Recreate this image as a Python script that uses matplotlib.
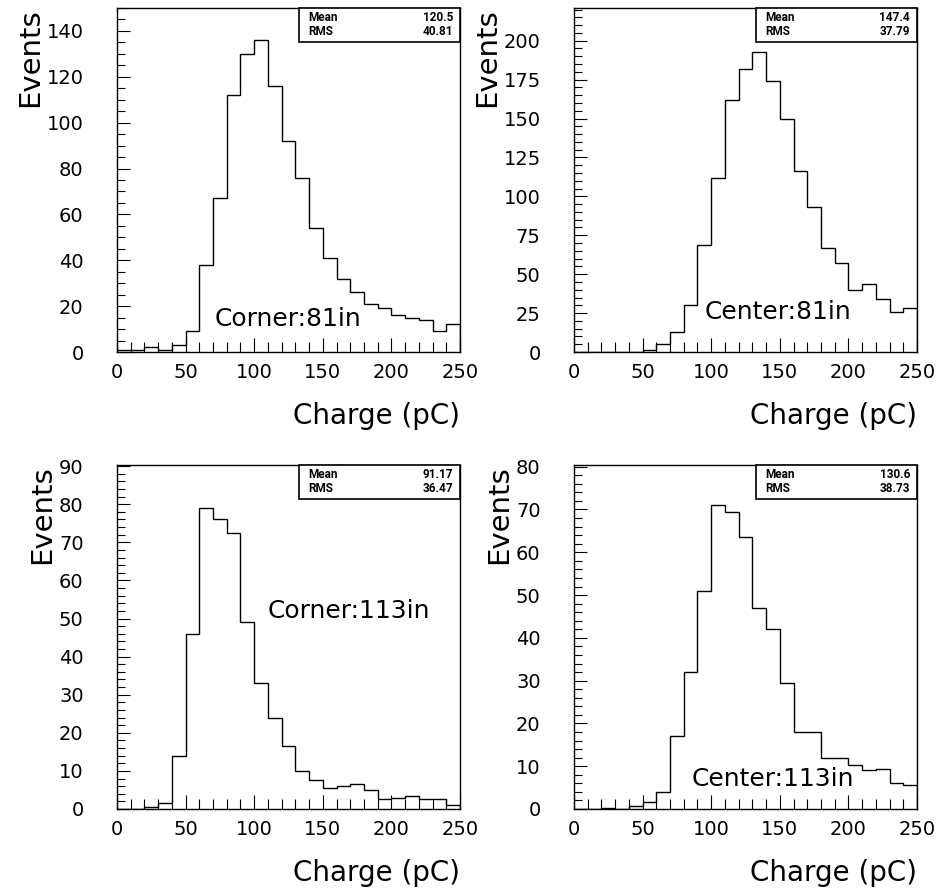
import matplotlib
matplotlib.use("Agg")
import matplotlib.pyplot as plt
from matplotlib.patches import Rectangle
from matplotlib.ticker import MultipleLocator

plt.rcParams['font.family'] = ['DejaVu Sans']

# ---- data ----
bin_edges = list(range(0, 251, 10))

corner_81 = [1, 1, 2, 1, 3, 9, 38, 67, 112, 130, 136, 116, 92, 76, 54, 41,
             32, 26, 21, 19, 16, 15, 14, 9, 12]
center_81 = [0, 0, 0, 0, 0, 1, 5, 13, 30, 69, 112, 162, 182, 193, 174, 150,
             116, 93, 67, 57, 40, 44, 34, 26, 28]
corner_113 = [0, 0, 0.5, 1.5, 14, 46, 79, 76, 72.5, 49, 33, 24, 16.5, 10, 7.5,
              5.5, 6, 6.5, 5, 2.5, 3, 3.5, 2.5, 2.5, 1]
center_113 = [0, 0, 0.3, 0, 0.7, 1.7, 4, 17, 32, 51, 71, 69.5, 63.5, 47, 42,
              29.5, 18, 18, 12, 12, 10.3, 9, 9.3, 6, 5.6]

labels = ["Corner:81in", "Center:81in", "Corner:113in", "Center:113in"]
means = ["120.5", "147.4", "91.17", "130.6"]
rmss = ["40.81", "37.79", "36.47", "38.73"]
y_max = [150, 221, 90.3, 80.4]
y_major = [20, 25, 10, 10]
y_minor = [5, 5, 2, 2]
label_pos = [(71, 14.4), (95.5, 25.5), (110, 52), (86, 7.0)]

series = [corner_81, center_81, corner_113, center_113]

# ---- figure ----
fig = plt.figure(figsize=(9.41, 8.94), dpi=100)
W, H = 941, 894
boxes = [(117, 8), (574, 8), (117, 465), (574, 465)]
aw, ah = 343, 344

for i, (vals, (lx, ty)) in enumerate(zip(series, boxes)):
    ax = fig.add_axes([lx / W, 1 - (ty + ah) / H, aw / W, ah / H])
    ax.stairs(vals, bin_edges, color='black', linewidth=1.0, baseline=0)
    ax.set_xlim(0, 250)
    ax.set_ylim(0, y_max[i])
    ax.xaxis.set_major_locator(MultipleLocator(50))
    ax.xaxis.set_minor_locator(MultipleLocator(10))
    ax.yaxis.set_major_locator(MultipleLocator(y_major[i]))
    ax.yaxis.set_minor_locator(MultipleLocator(y_minor[i]))
    ax.tick_params(which='both', direction='in', top=False, right=False,
                   width=0.8, labelsize=14)
    ax.tick_params(axis='x', which='major', length=10, pad=8)
    ax.tick_params(axis='x', which='minor', length=7)
    ax.tick_params(axis='y', which='major', length=9, pad=24)
    ax.tick_params(axis='y', which='minor', length=5.5)
    for s in ax.spines.values():
        s.set_linewidth(1.0)
    ax.set_xlabel("Charge (pC)", fontsize=20, loc='right', labelpad=14)
    ax.set_ylabel("Events", fontsize=21, loc='top', labelpad=2)

    # stats box
    bx0, by0 = 0.532, 0.902
    ax.add_patch(Rectangle((bx0, by0), 1 - bx0, 1 - by0, transform=ax.transAxes,
                           facecolor='white', edgecolor='black', linewidth=1.2,
                           zorder=5, clip_on=False))
    stat_kw = dict(transform=ax.transAxes, fontsize=8.5, fontweight='bold',
                   family=['Roboto', 'DejaVu Sans'], va='center', zorder=6)
    ax.text(0.557, 0.972, "Mean", ha='left', **stat_kw)
    ax.text(0.98, 0.972, means[i], ha='right', **stat_kw)
    ax.text(0.557, 0.931, "RMS", ha='left', **stat_kw)
    ax.text(0.98, 0.931, rmss[i], ha='right', **stat_kw)

    ax.text(label_pos[i][0], label_pos[i][1], labels[i], fontsize=18,
            ha='left', va='center')

fig.savefig("out.png", dpi=100)
